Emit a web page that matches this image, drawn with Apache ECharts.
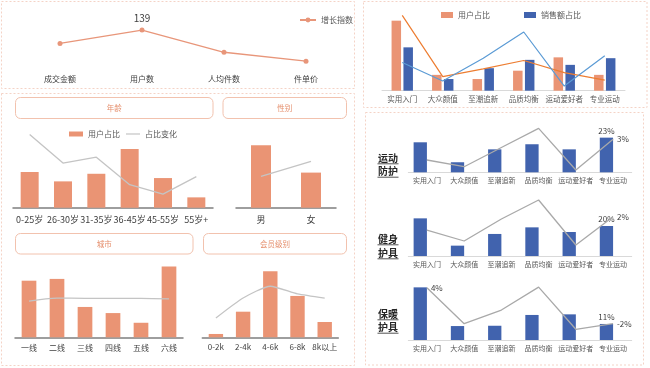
<!DOCTYPE html>
<html><head><meta charset="utf-8">
<script src="https://cdn.jsdelivr.net/npm/echarts@6/dist/echarts.min.js"></script>
<style>html,body{margin:0;padding:0;background:#fff}#c{width:650px;height:368px}</style>
</head><body><div id="c"></div>
<script>
// ---------- DATA ----------
const kpiCategories = ['成交金额', '用户数', '人均件数', '件单价'];
const kpiGrowth = [106, 139, 84, 62];

const styleCategories = ['实用入门', '大众颜值', '至潮追新', '品质均衡', '运动爱好者', '专业运动'];
const styleUserShare = [42, 9.5, 7, 12, 20, 9.5];
const styleSalesShare = [26, 7, 13.5, 18.5, 15.5, 19.5];
const styleUserTrend = [45.2, 8.4, 13.1, 18.1, 10.8, 6.3];
const styleSalesTrend = [16.9, 5.8, 19.5, 35.2, 2.8, 20.9];

const ageCategories = ['0-25岁', '26-30岁', '31-35岁', '36-45岁', '45-55岁', '55岁+'];
const ageShare = [18.3, 13.5, 17.4, 30.1, 15.2, 5.3];
const ageChange = [37.5, 22.9, 25.9, 11.8, 7.0, 15.9];

const genderCategories = ['男', '女'];
const genderShare = [64, 36];
const genderChange = [32.2, 47.6];

const cityCategories = ['一线', '二线', '三线', '四线', '五线', '六线'];
const cityShare = [22.2, 22.9, 11.9, 9.5, 5.7, 27.8];
const cityChange = [14.2, 15.4, 15.3, 15.3, 15.3, 15.1];

const memberCategories = ['0-2k', '2-4k', '4-6k', '6-8k', '8k以上'];
const memberShare = [2.2, 16.9, 43.6, 27.3, 10.1];
const memberChange = [12.7, 25.9, 33.7, 28.6, 25.9];

const sportShare = [20, 6.7, 15.3, 18.7, 15.3, 23.1];
const sportGrowth = [-0.45, -1.57, 1.63, 4.83, -2.12, 3.0];
const fitnessShare = [25.1, 6.9, 14.7, 19.1, 16, 20];
const fitnessGrowth = [-0.22, -2.05, 1.62, 4.78, -2.72, 2.0];
const warmShare = [35.1, 9.3, 9.5, 16.7, 17.1, 10.7];
const warmGrowth = [4.0, -2.0, 0.28, 4.1, -2.93, -2.0];

// ---------- STYLE ----------
const FONT = '"Noto Sans CJK SC", "Noto Sans", sans-serif';
const ORANGE = '#EA9474';
const BLUE = '#4163AE';
const LGRAY = '#C4C4C4';

const grid = [], xAxis = [], yAxis = [], series = [], legend = [], graphic = [];

function addGrid(g) { grid.push(g); return grid.length - 1; }
function catAxis(gi, cats, o) {
  xAxis.push({
    type: 'category', gridIndex: gi, data: cats, boundaryGap: true,
    axisTick: { show: false },
    axisLine: { show: o.line !== false, lineStyle: { color: o.lineColor || '#7F7F7F', width: o.lineWidth || 1.5 } },
    axisLabel: { interval: 0, fontSize: o.fontSize || 9, color: o.color || '#404040', margin: o.margin || 7, fontFamily: FONT },
    splitLine: { show: false }
  });
  return xAxis.length - 1;
}
function valAxis(gi, min, max) {
  yAxis.push({ type: 'value', gridIndex: gi, min: min, max: max, show: false, splitLine: { show: false } });
  return yAxis.length - 1;
}
function pctLabel(p) { return Math.round(p.value) + '%'; }
function labelled(arr, idxs, label) {
  return arr.map((v, i) => idxs.indexOf(i) >= 0 ? { value: v, label: Object.assign({ show: true }, label) } : v);
}

// KPI line chart
let g = addGrid({ left: 19, top: 20, width: 328, height: 50 });
let xa = catAxis(g, kpiCategories, { line: false, fontSize: 8, margin: 5, color: '#404040' });
let ya = valAxis(g, 40, 164);
series.push({
  type: 'line', name: '增长指数', xAxisIndex: xa, yAxisIndex: ya,
  data: labelled(kpiGrowth, [1], {}),
  symbol: 'circle', symbolSize: 5, lineStyle: { color: '#E8967A', width: 1.3 }, itemStyle: { color: '#E8967A' },
  label: { show: false, position: 'top', distance: 4, fontSize: 10, color: '#404040', fontFamily: FONT }
});
legend.push({ data: ['增长指数'], left: 294, top: 11, itemWidth: 16, itemHeight: 6, selectedMode: false,
  textStyle: { fontSize: 8, color: '#595959', fontFamily: FONT } });

// Style combo chart
g = addGrid({ left: 382, top: 14, width: 243, height: 76.7 });
xa = catAxis(g, styleCategories, { lineColor: '#D9D9D9', lineWidth: 1, fontSize: 7.5, margin: 5, color: '#595959' });
ya = valAxis(g, 0, 46);
series.push({ type: 'bar', name: '用户占比', xAxisIndex: xa, yAxisIndex: ya, data: styleUserShare, barWidth: 9.5, barGap: '25%', itemStyle: { color: ORANGE } });
series.push({ type: 'bar', name: '销售额占比', xAxisIndex: xa, yAxisIndex: ya, data: styleSalesShare, barWidth: 9.5, itemStyle: { color: BLUE } });
series.push({ type: 'line', name: '用户占比趋势', xAxisIndex: xa, yAxisIndex: ya, data: styleUserTrend, symbol: 'none', lineStyle: { color: '#ED7D31', width: 1.2 }, clip: false });
series.push({ type: 'line', name: '销售额占比趋势', xAxisIndex: xa, yAxisIndex: ya, data: styleSalesTrend, symbol: 'none', lineStyle: { color: '#5B9BD5', width: 1.2 }, clip: false });
legend.push({ data: [{ name: '用户占比', icon: 'rect' }, { name: '销售额占比', icon: 'rect' }], left: 436, top: 6, itemWidth: 12, itemHeight: 6, itemGap: 34, selectedMode: false,
  textStyle: { fontSize: 8, color: '#595959', fontFamily: FONT } });

// Demographic charts
function demo(gridDef, cats, share, change, max, barWidth, lineName, fontSize, margin, smooth) {
  const gi = addGrid(gridDef);
  const x = catAxis(gi, cats, { fontSize: fontSize, margin: margin });
  const y = valAxis(gi, 0, max);
  series.push({ type: 'bar', name: '用户占比', xAxisIndex: x, yAxisIndex: y, data: share, barWidth: barWidth, itemStyle: { color: ORANGE } });
  series.push({ type: 'line', name: lineName, xAxisIndex: x, yAxisIndex: y, data: change, symbol: 'none', smooth: smooth || false,
    itemStyle: { color: LGRAY }, lineStyle: { color: LGRAY, width: 1.3 }, clip: false });
}
demo({ left: 13, top: 129.7, width: 200, height: 78 }, ageCategories, ageShare, ageChange, 40, 18, '占比变化', 9, 7);
demo({ left: 236, top: 139.45, width: 100, height: 68.25 }, genderCategories, genderShare, genderChange, 70, 20, '性别变化', 9, 7);
demo({ left: 15, top: 260.8, width: 168, height: 76.5 }, cityCategories, cityShare, cityChange, 30, 14.7, '城市变化', 8, 7, 0.3);
demo({ left: 202.3, top: 269.1, width: 136, height: 68.2 }, memberCategories, memberShare, memberChange, 45, 14.4, '会员变化', 8, 6, 0.2);
legend.push({ data: [{ name: '用户占比', icon: 'rect' }], left: 64, top: 125, itemWidth: 14, itemHeight: 5, selectedMode: false,
  textStyle: { fontSize: 8, color: '#595959', fontFamily: FONT } });
legend.push({ data: [{ name: '占比变化', icon: 'rect' }], left: 121, top: 125, itemWidth: 14, itemHeight: 1.2, selectedMode: false,
  textStyle: { fontSize: 8, color: '#595959', fontFamily: FONT } });

// Product category charts
function product(top, height, barMax, lineMin, lineMax, share, growth, barIdx, lineIdx) {
  const gi = addGrid({ left: 408.3, top: top, width: 223.4, height: height });
  const x = catAxis(gi, styleCategories, { lineColor: '#D9D9D9', lineWidth: 1, fontSize: 7, margin: 5, color: '#595959' });
  const yb = valAxis(gi, 0, barMax);
  const yl = valAxis(gi, lineMin, lineMax);
  const lab = { fontSize: 8, color: '#404040', fontFamily: FONT, formatter: pctLabel };
  series.push({ type: 'bar', name: '品类占比', xAxisIndex: x, yAxisIndex: yb, data: labelled(share, barIdx, {}), barWidth: 13.3, barGap: '0%',
    itemStyle: { color: BLUE }, label: Object.assign({ show: false, position: 'top', distance: 3 }, lab) });
  series.push({ type: 'bar', name: '占位', xAxisIndex: x, yAxisIndex: yb, data: [], barWidth: 13.3, silent: true });
  series.push({ type: 'line', name: '品类增长', xAxisIndex: x, yAxisIndex: yl, data: labelled(growth, lineIdx, {}),
    symbol: 'circle', symbolSize: 0.01, showSymbol: true, clip: false,
    itemStyle: { color: '#A9A9A9' }, lineStyle: { color: '#A9A9A9', width: 1.3 },
    label: Object.assign({ show: false, position: 'right', distance: 4 }, lab) });
}
product(125, 47.3, 31.53, -2.5, 5.383, sportShare, sportGrowth, [5], [5]);
product(198, 58, 38.67, -4.55, 5.117, fitnessShare, fitnessGrowth, [5], [5]);
product(282, 58, 38.67, -4.717, 4.95, warmShare, warmGrowth, [5], [0, 5]);

// ---------- GRAPHICS ----------
const dash = { fill: 'none', stroke: '#F4D3C6', lineDash: [2, 2], lineWidth: 1 };
[[1.5, 1.5, 353, 87], [363.5, 1.5, 283.5, 106], [1.5, 93.5, 353, 272], [365.5, 112.5, 278, 252.5]].forEach(r => {
  graphic.push({ type: 'rect', silent: true, z: -1, shape: { x: r[0], y: r[1], width: r[2], height: r[3] }, style: dash });
});
[['年龄', 15.5, 97.5, 197.5, 21], ['性别', 223, 97.5, 123.5, 21], ['城市', 15.5, 233.5, 177.5, 20.5], ['会员级别', 203.5, 233.5, 143, 20.5]].forEach(b => {
  graphic.push({ type: 'rect', silent: true, shape: { x: b[1], y: b[2], width: b[3], height: b[4], r: 5 },
    style: { fill: '#fff', stroke: '#F2C2AE', lineWidth: 1 } });
  graphic.push({ type: 'text', silent: true, x: b[1] + b[3] / 2, y: b[2] + b[4] / 2,
    style: { text: b[0], fill: '#E58F6D', font: '7.5px ' + FONT, textAlign: 'center', textVerticalAlign: 'middle' } });
});
[['运动', 158.3], ['防护', 171.7], ['健身', 239.3], ['护具', 253.3], ['保暖', 314.3], ['护具', 327.7]].forEach(t => {
  graphic.push({ type: 'text', silent: true, x: 388, y: t[1],
    style: { text: t[0], fill: '#262626', font: 'bold 10px ' + FONT, textAlign: 'center', textVerticalAlign: 'middle' } });
  graphic.push({ type: 'line', silent: true, shape: { x1: 377.5, y1: t[1] + 5.5, x2: 398.5, y2: t[1] + 5.5 },
    style: { stroke: '#262626', lineWidth: 0.8 } });
});

const chart = echarts.init(document.getElementById('c'), null, { renderer: 'canvas' });
chart.setOption({
  animation: false,
  backgroundColor: '#fff',
  textStyle: { fontFamily: FONT },
  grid: grid, xAxis: xAxis, yAxis: yAxis, series: series, legend: legend, graphic: graphic,
  tooltip: { show: false }
});
</script></body></html>
